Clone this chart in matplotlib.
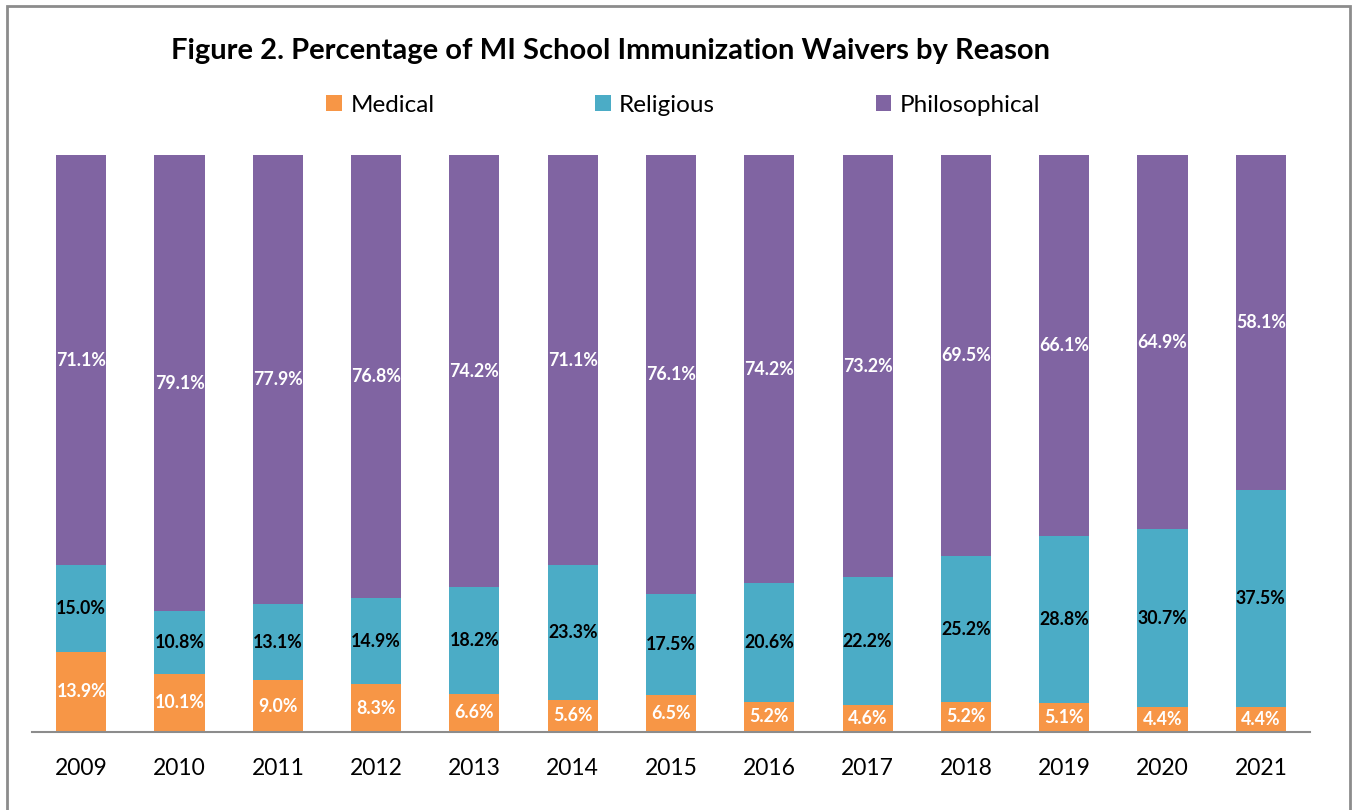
import matplotlib.pyplot as plt
from matplotlib.patches import Rectangle
import numpy as np

years = ['2009', '2010', '2011', '2012', '2013', '2014', '2015',
         '2016', '2017', '2018', '2019', '2020', '2021']
medical = [13.9, 10.1, 9.0, 8.3, 6.6, 5.6, 6.5, 5.2, 4.6, 5.2, 5.1, 4.4, 4.4]
religious = [15.0, 10.8, 13.1, 14.9, 18.2, 23.3, 17.5, 20.6, 22.2, 25.2, 28.8, 30.7, 37.5]
philosophical = [71.1, 79.1, 77.9, 76.8, 74.2, 71.1, 76.1, 74.2, 73.2, 69.5, 66.1, 64.9, 58.1]

series = [('Medical', medical, '#F79646', 'white'),
          ('Religious', religious, '#4BACC6', 'black'),
          ('Philosophical', philosophical, '#8064A2', 'white')]

plt.rcParams['font.family'] = ['Lato', 'DejaVu Sans']

fig = plt.figure(figsize=(13.53, 8.10), dpi=100)
ax = fig.add_axes([0.0237, 0.0963, 0.9445, 0.7123])

x = np.arange(len(years))
totals = np.array(medical) + np.array(religious) + np.array(philosophical)
bottom = np.zeros(len(years))
for name, vals, color, tcol in series:
    share = np.array(vals) / totals * 100
    ax.bar(x, share, 0.51, bottom=bottom, color=color, label=name)
    for xi, b, s, v in zip(x, bottom, share, vals):
        ax.text(xi, b + s / 2, f'{v:.1f}%', ha='center', va='center',
                color=tcol, fontsize=12.8, fontweight='bold')
    bottom += share

ax.set_xlim(-0.5, len(years) - 0.5)
ax.set_ylim(0, 100)
ax.set_xticks(x)
ax.set_xticklabels(years, fontsize=16.5)
ax.tick_params(axis='x', length=0, pad=19)
ax.set_yticks([])
for s in ['top', 'right', 'left']:
    ax.spines[s].set_visible(False)
ax.spines['bottom'].set_color('#8c8c8c')
ax.spines['bottom'].set_linewidth(1.5)

fig.text(0.451, 0.937, 'Figure 2. Percentage of MI School Immunization Waivers by Reason',
         ha='center', va='center', fontsize=21, fontweight='bold')

ax.legend(loc='center', bbox_to_anchor=(0.505, 0.870), bbox_transform=fig.transFigure,
          ncol=3, frameon=False, fontsize=17.5, handlelength=0.65, handleheight=0.65,
          handletextpad=0.35, columnspacing=6.6)

fig.patches.append(Rectangle((0.0055, -0.01), 0.9925, 1.0025, transform=fig.transFigure,
                             fill=False, edgecolor='#8c8c8c', linewidth=2))

fig.savefig('out.png', dpi=100)
